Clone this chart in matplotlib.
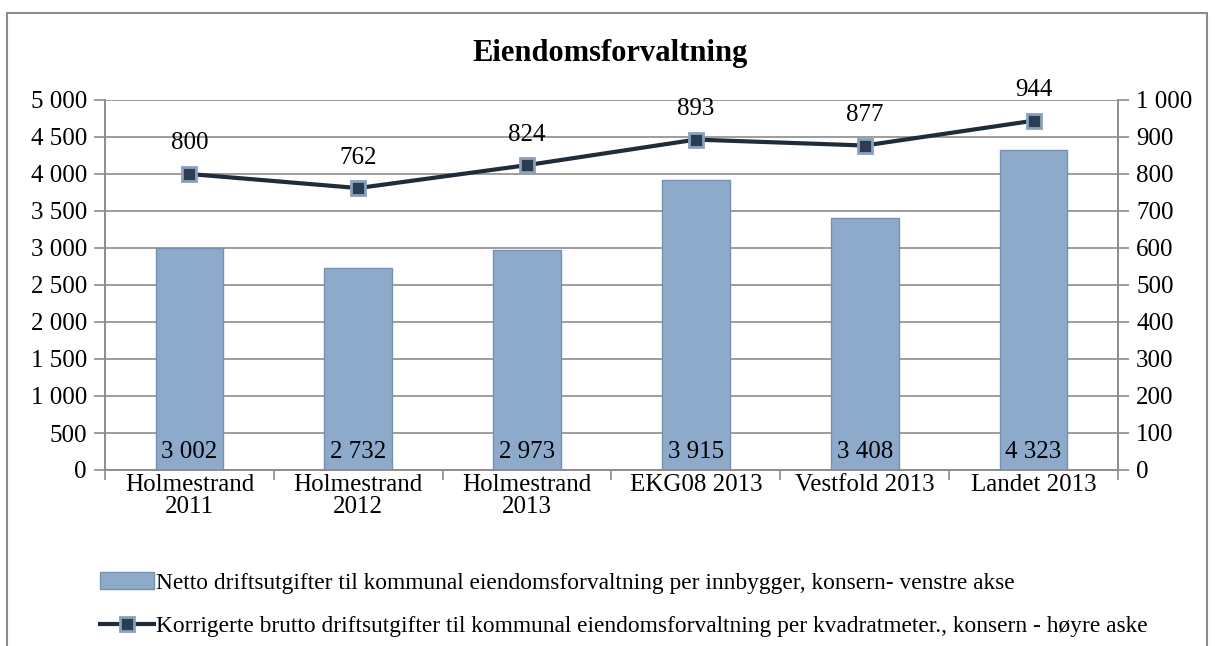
import matplotlib.pyplot as plt
import matplotlib.patches as patches
from matplotlib.ticker import FuncFormatter, FixedLocator

categories = ['Holmestrand\n2011', 'Holmestrand\n2012', 'Holmestrand\n2013',
              'EKG08 2013', 'Vestfold 2013', 'Landet 2013']
netto = [3002, 2732, 2973, 3915, 3408, 4323]
brutto_kvm = [800, 762, 824, 893, 877, 944]

label_netto = 'Netto driftsutgifter til kommunal eiendomsforvaltning per innbygger, konsern- venstre akse'
label_brutto = 'Korrigerte brutto driftsutgifter til kommunal eiendomsforvaltning per kvadratmeter., konsern - høyre aske'

plt.rcParams['font.family'] = ['Liberation Serif', 'DejaVu Serif']
grid_col = '#8c8c8c'


def space_thousands(v, pos=None):
    return f'{v:,.0f}'.replace(',', ' ')


fig = plt.figure(figsize=(12.15, 6.46), dpi=100)
ax = fig.add_axes([105 / 1215, 1 - 470 / 646, (1118 - 105) / 1215, 370 / 646])
ax2 = ax.twinx()

x = range(len(categories))
bars = ax.bar(x, netto, width=0.4, color='#8eaacb', edgecolor='#7890ad',
              linewidth=1.0, zorder=3, label=label_netto)
for i, v in enumerate(netto):
    ax.annotate(space_thousands(v), xy=(i, 0), xytext=(0, 13), textcoords='offset points',
                ha='center', va='center', fontsize=18, zorder=5)

line, = ax2.plot(x, brutto_kvm, color='#1f2c39', lw=3, marker='s', markersize=10,
                 markerfacecolor='#2b3d50', markeredgecolor='#8aa1bc', markeredgewidth=2,
                 label=label_brutto, zorder=4)
for i, v in enumerate(brutto_kvm):
    ax2.annotate(str(v), xy=(i, v), xytext=(0, 22), textcoords='offset points',
                 ha='center', va='center', fontsize=18)

ax.set_xlim(-0.5, len(categories) - 0.5)
ax.set_ylim(0, 5000)
ax2.set_ylim(0, 1000)
ax.set_yticks(range(0, 5001, 500))
ax2.set_yticks(range(0, 1001, 100))
ax.yaxis.set_major_formatter(FuncFormatter(space_thousands))
ax2.yaxis.set_major_formatter(FuncFormatter(space_thousands))
ax.yaxis.grid(True, color=grid_col, lw=1.2, zorder=0)
ax.set_axisbelow(True)

ax.set_xticks(list(x))
ax.set_xticklabels(categories, fontsize=18, linespacing=1.0)
ax.xaxis.set_minor_locator(FixedLocator([i - 0.5 for i in range(len(categories) + 1)]))
ax.tick_params(axis='x', which='major', length=0, pad=3)
ax.tick_params(axis='x', which='minor', length=7, color=grid_col, width=1.2)
ax.tick_params(axis='y', length=8, color=grid_col, width=1.2, labelsize=18, pad=5)
ax2.tick_params(axis='y', length=8, color=grid_col, width=1.2, labelsize=18, pad=5)

for a in (ax, ax2):
    a.spines['top'].set_visible(False)
    for s in ('left', 'right', 'bottom'):
        a.spines[s].set_color(grid_col)
        a.spines[s].set_linewidth(1.2)

fig.text(610 / 1215, 1 - 53 / 646, 'Eiendomsforvaltning', ha='center', va='center',
         fontsize=22, fontweight='bold')

fig.legend(handles=[bars, line], loc='upper left', bbox_to_anchor=(91 / 1215, 1 - 563 / 646),
           frameon=False, fontsize=16.8, handlelength=2.3, handletextpad=0.1,
           labelspacing=0.95, borderaxespad=0)

fig.patches.append(patches.Rectangle((7 / 1215, -0.05), 1200 / 1215, (646 - 13) / 646 + 0.05,
                                     transform=fig.transFigure, fill=False,
                                     edgecolor='#8c8c8c', lw=1.5))

fig.savefig('out.png', dpi=100)
